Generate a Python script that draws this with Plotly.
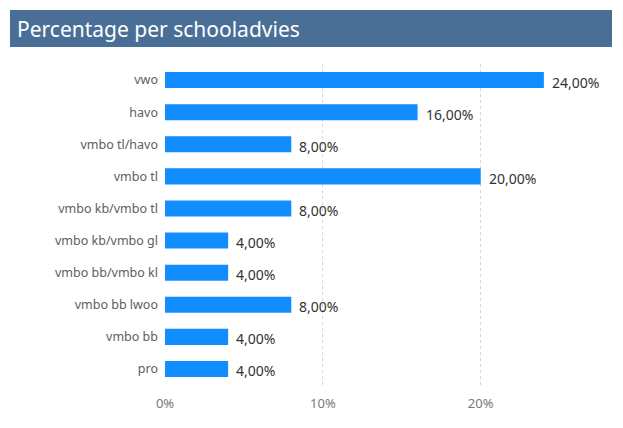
import plotly.graph_objects as go

categories = ["vwo", "havo", "vmbo tl/havo", "vmbo tl", "vmbo kb/vmbo tl",
              "vmbo kb/vmbo gl", "vmbo bb/vmbo kl", "vmbo bb lwoo", "vmbo bb", "pro"]
percentages = [24, 16, 8, 20, 8, 4, 4, 8, 4, 4]
tick_values = [0, 10, 20]
tick_labels = ["0%", "10%", "20%"]
title_text = "Percentage per schooladvies"

labels = [f"{v:.2f}%".replace(".", ",") for v in percentages]

# page has an 8px body margin; work in figure pixels = reference pixels - 8
OFF = 8
W, H = 615, 420
ml, mt = 165 - OFF, 64 - OFF
plot_right, plot_bottom = 607 - OFF, 385 - OFF
mr, mb = W - plot_right, H - plot_bottom
pw, ph = W - ml - mr, H - mt - mb

def px_x(p):
    return (p - OFF - ml) / pw

def px_y(p):
    return (H - mb - (p - OFF)) / ph

fig = go.Figure(go.Bar(
    y=categories, x=percentages, orientation="h",
    marker=dict(color="#118DFF", line=dict(width=0)),
    width=0.5, hoverinfo="x+y",
))

value_annotations = [
    dict(x=v, y=c, text=t, xref="x", yref="y", xanchor="left", yanchor="middle",
         xshift=6, yshift=-2, showarrow=False,
         font=dict(family="Noto Sans", size=14, color="#333333"))
    for c, v, t in zip(categories, percentages, labels)
]

fig.update_layout(
    width=W, height=H,
    margin=dict(l=ml, r=mr, t=mt, b=mb, autoexpand=False),
    paper_bgcolor="white", plot_bgcolor="white",
    showlegend=False,
    font=dict(family="Noto Sans", size=12, color="#666666"),
    xaxis=dict(range=[0, 28], tickvals=tick_values, ticktext=tick_labels,
               showgrid=True, gridcolor="#d6d6d6", griddash="dot", gridwidth=1,
               zeroline=False, showline=False, ticks="", automargin=False,
               ticklabelstandoff=9,
               tickfont=dict(size=13, color="#777777")),
    yaxis=dict(categoryorder="array", categoryarray=categories, autorange="reversed",
               showgrid=False, zeroline=False, showline=False, ticks="",
               automargin=False, ticklabelstandoff=6,
               tickfont=dict(size=12.5, color="#605E5C")),
    shapes=[
        dict(type="rect", xref="paper", yref="paper",
             x0=px_x(10), x1=px_x(612), y0=px_y(47), y1=px_y(10),
             line=dict(width=0), fillcolor="#4A6F97", layer="below"),
    ],
    annotations=[
        dict(text=title_text, xref="paper", yref="paper",
             x=px_x(15), y=px_y(29), xanchor="left", yanchor="middle",
             showarrow=False, font=dict(family="Noto Sans", size=21, color="white")),
    ] + value_annotations,
)

fig.write_html("out.html")
